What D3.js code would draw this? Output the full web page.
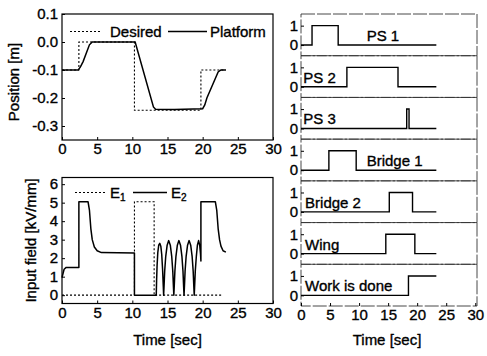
<!DOCTYPE html>
<html><head><meta charset="utf-8">
<script src="https://cdn.jsdelivr.net/npm/d3@7"></script>
<style>
html,body{margin:0;padding:0;background:#fff;}
svg text{font-family:"Liberation Sans",Arial,Helvetica,sans-serif;fill:#000;stroke:#000;stroke-width:0.35px;}
</style></head>
<body><svg id="c" width="487" height="356"></svg>
<script>
// ---- data ----
const xTicks = [0, 5, 10, 15, 20, 25, 30];
const posTicks = [-0.3, -0.2, -0.1, 0.0, 0.1];
const fieldTicks = [0, 1, 2, 3, 4, 5, 6];
const stateTicks = [0, 1];

const desiredT = [0, 2.4, 2.4, 10.3, 10.3, 19.75, 19.75, 23.3];
const desiredV = [-0.1, -0.1, 0, 0, -0.244, -0.244, -0.1, -0.1];

const platformT = [0, 2.3, 2.6, 3.0, 3.9, 4.3, 10.4, 13.0, 13.3, 16.0, 20.0, 20.3, 20.6, 22.2, 22.6, 23.3];
const platformV = [-0.1, -0.1, -0.09, -0.07, -0.01, 0, 0, -0.232, -0.24, -0.241, -0.238, -0.225, -0.2, -0.107, -0.1, -0.1];

const e1T = [0, 10.3, 10.3, 13.1, 13.1, 22.8];
const e1V = [0, 0, 5.05, 5.05, 0, 0];

const e2T = [0, 0.3, 0.6, 2.4, 2.4, 3.7, 3.9, 4.1, 4.3, 4.6, 5.0, 5.6, 10.3, 10.3, 13.4,
  13.45, 13.52, 13.62, 13.75, 13.9, 14.05, 14.18, 14.3, 14.4, 14.45,
  14.5, 14.6, 14.75, 14.95, 15.17, 15.4, 15.6, 15.75, 15.85, 15.9,
  15.95, 16.05, 16.2, 16.4, 16.62, 16.85, 17.05, 17.2, 17.3, 17.35,
  17.4, 17.5, 17.65, 17.85, 18.07, 18.3, 18.5, 18.65, 18.75, 18.8,
  18.85, 18.95, 19.1, 19.25, 19.42, 19.58, 19.7, 19.75, 19.75,
  21.8, 22.0, 22.2, 22.4, 22.6, 22.9, 23.3];
const e2V = [0.95, 1.4, 1.5, 1.5, 5.05, 5.05, 4.6, 3.6, 3.0, 2.6, 2.4, 2.3, 2.28, 0, 0,
  0.8, 1.6, 2.3, 2.7, 2.8, 2.65, 2.2, 1.4, 0.5, 0,
  0.4, 1.3, 2.1, 2.7, 2.95, 2.7, 2.1, 1.3, 0.4, 0,
  0.4, 1.3, 2.1, 2.7, 2.95, 2.7, 2.1, 1.3, 0.4, 0,
  0.4, 1.3, 2.1, 2.7, 2.95, 2.7, 2.1, 1.3, 0.4, 0,
  0.4, 1.3, 2.1, 2.7, 2.95, 2.7, 2.2, 1.85, 5.05,
  5.05, 4.6, 3.6, 3.0, 2.65, 2.4, 2.33];

const stateNames = ["PS 1", "PS 2", "PS 3", "Bridge 1", "Bridge 2", "Wing", "Work is done"];
const stateT = [
  [0, 1.9, 6.4, 23.3],
  [0, 7.9, 16.7, 23.3],
  [0, 18.2, 18.6, 23.3],
  [0, 4.8, 9.5, 23.3],
  [0, 15.2, 19.2, 23.3],
  [0, 14.6, 19.6, 23.3],
  [0, 18.5, 23.3]
];
const stateV = [
  [0, 1, 0, 0],
  [0, 1, 0, 0],
  [0, 1, 0, 0],
  [0, 1, 0, 0],
  [0, 1, 0, 0],
  [0, 1, 0, 0],
  [0, 1, 1]
];
const stateLabelAt = [11.3, 0.4, 0.4, 11.3, 0.7, 0.7, 0.7];

// ---- layout ----
const svg = d3.select("#c");
const FS = 15;
const L = {x0: 62, x1: 273};
const TOP = {y0: 14, y1: 140};
const BOT = {y0: 177.5, y1: 303.5};
const R = {x0: 301, x1: 477, y0: 14, y1: 306};

const xL = d3.scaleLinear().domain([0, 30]).range([L.x0, L.x1]);
const yPos = d3.scaleLinear().domain([-0.35, 0.1]).range([TOP.y1, TOP.y0]);
const yField = d3.scaleLinear().domain([-0.45, 6.36]).range([BOT.y1, BOT.y0]);
const xR = d3.scaleLinear().domain([0, 30.3]).range([R.x0, R.x1]);
const fmtInt = d3.format("d");

function styleAxis(g) {
  g.select(".domain").remove();
  g.selectAll("line").attr("stroke", "#000").attr("stroke-width", 1);
  g.selectAll("text").attr("font-size", FS).attr("font-family", '"Liberation Sans",Arial,sans-serif');
}
function frame(x0, y0, x1, y1, dash) {
  svg.append("rect").attr("x", x0).attr("y", y0).attr("width", x1 - x0).attr("height", y1 - y0)
    .attr("fill", "none").attr("stroke", dash ? "#333" : "#000").attr("stroke-width", dash ? 0.9 : 1.2)
    .attr("stroke-dasharray", dash || null);
}
const zip = (t, v) => t.map((d, i) => [d, v[i]]);

// ---- top-left: position ----
svg.append("g").attr("transform", `translate(0,${TOP.y1})`)
  .call(d3.axisBottom(xL).tickValues(xTicks).tickSize(-3).tickPadding(3).tickFormat(fmtInt)).call(styleAxis);
svg.append("g").attr("transform", `translate(${L.x0},0)`)
  .call(d3.axisLeft(yPos).tickValues(posTicks).tickSize(-3).tickPadding(4).tickFormat(d => d.toFixed(1))).call(styleAxis);
frame(L.x0, TOP.y0, L.x1, TOP.y1);

const lineP = d3.line().x(d => xL(d[0])).y(d => yPos(d[1]));
svg.append("path").attr("d", lineP(zip(desiredT, desiredV))).attr("fill", "none")
  .attr("stroke", "#000").attr("stroke-width", 1.1).attr("stroke-dasharray", "2,2");
svg.append("path").attr("d", lineP(zip(platformT, platformV))).attr("fill", "none")
  .attr("stroke", "#000").attr("stroke-width", 1.5);

// legend top
svg.append("line").attr("x1", 70).attr("x2", 102).attr("y1", 31.5).attr("y2", 31.5)
  .attr("stroke", "#000").attr("stroke-width", 1.1).attr("stroke-dasharray", "2,2");
svg.append("text").attr("x", 110).attr("y", 37).attr("font-size", FS).text("Desired");
svg.append("line").attr("x1", 168).attr("x2", 207).attr("y1", 31.5).attr("y2", 31.5)
  .attr("stroke", "#000").attr("stroke-width", 1.5);
svg.append("text").attr("x", 210).attr("y", 37).attr("font-size", FS).text("Platform");

svg.append("text").attr("transform", "translate(19,82) rotate(-90)").attr("text-anchor", "middle")
  .attr("font-size", FS).text("Position [m]");

// ---- bottom-left: input field ----
svg.append("g").attr("transform", `translate(0,${BOT.y1})`)
  .call(d3.axisBottom(xL).tickValues(xTicks).tickSize(-3).tickPadding(4).tickFormat(fmtInt)).call(styleAxis);
svg.append("g").attr("transform", `translate(${L.x0},0)`)
  .call(d3.axisLeft(yField).tickValues(fieldTicks).tickSize(-3).tickPadding(4).tickFormat(fmtInt)).call(styleAxis);
frame(L.x0, BOT.y0, L.x1, BOT.y1);

const lineF = d3.line().x(d => xL(d[0])).y(d => yField(d[1]));
svg.append("path").attr("d", lineF(zip(e1T, e1V))).attr("fill", "none")
  .attr("stroke", "#000").attr("stroke-width", 1.1).attr("stroke-dasharray", "2,2");
svg.append("path").attr("d", lineF(zip(e2T, e2V))).attr("fill", "none")
  .attr("stroke", "#000").attr("stroke-width", 1.5).attr("stroke-linejoin", "round");

// legend bottom
svg.append("line").attr("x1", 75).attr("x2", 107).attr("y1", 192.5).attr("y2", 192.5)
  .attr("stroke", "#000").attr("stroke-width", 1.1).attr("stroke-dasharray", "2,2");
const t1 = svg.append("text").attr("x", 110).attr("y", 198).attr("font-size", FS);
t1.append("tspan").text("E");
t1.append("tspan").attr("font-size", 10).attr("dy", 3).text("1");
svg.append("line").attr("x1", 133).attr("x2", 167).attr("y1", 192.5).attr("y2", 192.5)
  .attr("stroke", "#000").attr("stroke-width", 1.5);
const t2 = svg.append("text").attr("x", 171).attr("y", 198).attr("font-size", FS);
t2.append("tspan").text("E");
t2.append("tspan").attr("font-size", 10).attr("dy", 3).text("2");

svg.append("text").attr("transform", `translate(36,${(BOT.y0 + BOT.y1) / 2}) rotate(-90)`).attr("text-anchor", "middle")
  .attr("font-size", FS).text("Input field [kV/mm]");
svg.append("text").attr("x", (L.x0 + L.x1) / 2).attr("y", 345).attr("text-anchor", "middle")
  .attr("font-size", FS).text("Time [sec]");

// ---- right: state panels ----
const nP = stateNames.length;
const pH = (R.y1 - R.y0) / nP;
stateNames.forEach((name, i) => {
  const top = R.y0 + i * pH;
  const yS = d3.scaleLinear().domain([-0.55, 1.6]).range([top + pH, top]);
  frame(R.x0, top, R.x1, top + pH, "14,2");
  svg.append("g").attr("transform", `translate(${R.x0},0)`)
    .call(d3.axisLeft(yS).tickValues(stateTicks).tickSize(-3).tickPadding(3).tickFormat(fmtInt)).call(styleAxis);
  const ln = d3.line().curve(d3.curveStepAfter).x(d => xR(d[0])).y(d => yS(d[1]));
  svg.append("path").attr("d", ln(zip(stateT[i], stateV[i]))).attr("fill", "none")
    .attr("stroke", "#000").attr("stroke-width", 1.4);
  svg.append("text").attr("x", xR(stateLabelAt[i])).attr("y", yS(0) - 4).attr("font-size", FS).text(name);
});
svg.append("g").attr("transform", `translate(0,${R.y1})`)
  .call(d3.axisBottom(xR).tickValues(xTicks).tickSize(-3).tickPadding(3).tickFormat(fmtInt)).call(styleAxis);
svg.append("text").attr("x", 387).attr("y", 345).attr("text-anchor", "middle")
  .attr("font-size", FS).text("Time [sec]");
</script></body></html>
